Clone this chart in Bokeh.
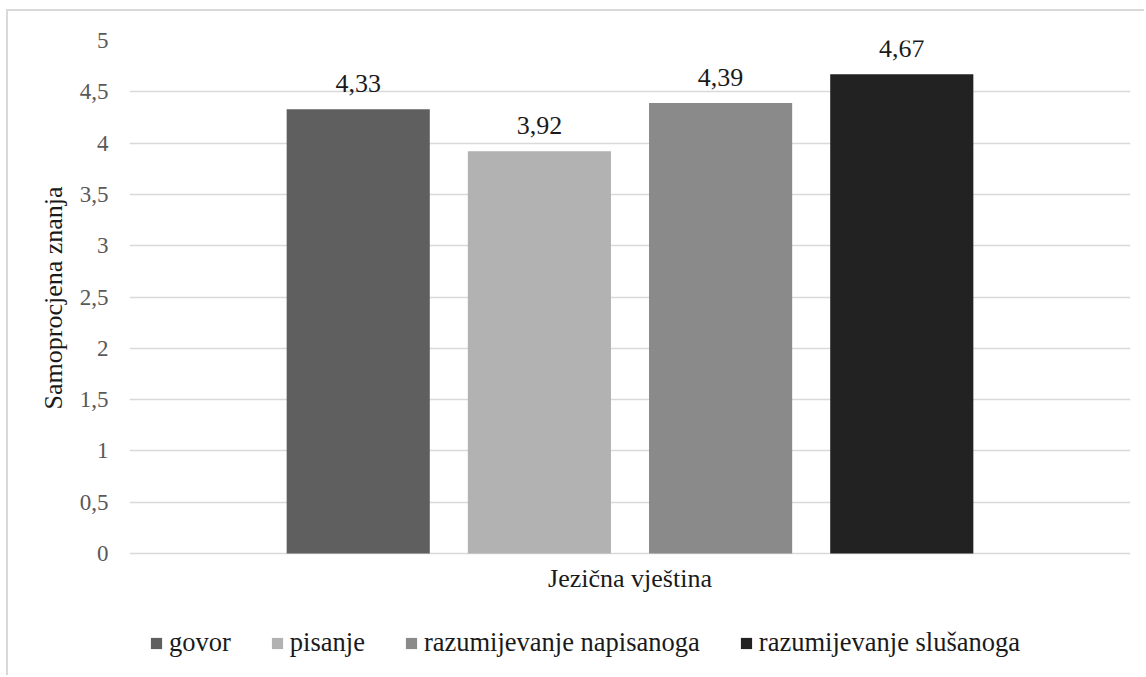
from bokeh.plotting import figure
from bokeh.models import (FactorRange, Range1d, FixedTicker, Legend, LegendItem,
                          ColumnDataSource, Title)
from bokeh.transform import dodge
from bokeh.core.properties import value
from bokeh.embed import file_html
from bokeh.resources import INLINE

# Self-assessed language skills (mean scores)
category = "Jezična vještina"
skills = ["govor", "pisanje", "razumijevanje napisanoga", "razumijevanje slušanoga"]
scores = [4.33, 3.92, 4.39, 4.67]
colors = ["#5f5f5f", "#b2b2b2", "#8a8a8a", "#222222"]
y_ticks = [0, 0.5, 1, 1.5, 2, 2.5, 3, 3.5, 4, 4.5, 5]
y_tick_labels = ["0", "0,5", "1", "1,5", "2", "2,5", "3", "3,5", "4", "4,5", "5"]
y_title = "Samoprocjena znanja"

FONT = "'Liberation Serif', serif"
TEXT = "#1a1a1a"
bar_width = 0.143
step = 0.181

# the frame runs down to the bottom edge so the legend and category
# label sit inside it; values below 0 are left empty
px_per_unit = 102.6
y_bottom = -124 / px_per_unit

p = figure(width=1138, height=666, x_range=FactorRange(category, range_padding=0),
           y_range=Range1d(y_bottom, 5), output_backend="svg", toolbar_location=None,
           min_border_left=121, min_border_right=16, min_border_top=29,
           min_border_bottom=0)
p.outline_line_color = None
p.background_fill_color = "white"
p.border_fill_color = "white"
# light frame around the whole chart area
p.styles = {"margin-left": "6px", "margin-top": "9px",
            "border-left": "2px solid #d9d9d9", "border-top": "2px solid #d9d9d9"}

renderers = []
for i, (skill, score, color) in enumerate(zip(skills, scores, colors)):
    off = (i - 1.5) * step
    src = ColumnDataSource(dict(x=[category], top=[score],
                                label=[f"{score:.2f}".replace(".", ",")]))
    r = p.vbar(x=dodge("x", off, range=p.x_range), top="top", bottom=0,
               width=bar_width, source=src, fill_color=color, line_color=None)
    p.text(x=dodge("x", off, range=p.x_range), y="top", text="label", source=src,
           text_align="center", text_baseline="alphabetic", y_offset=-26,
           text_font=value(FONT), text_font_size="26px", text_color=TEXT)
    renderers.append((skill, r))

# category label under the baseline
p.text(x=[category], y=[0], text=[category], text_align="center",
       text_baseline="alphabetic", y_offset=25, text_font=value(FONT),
       text_font_size="26px", text_color=TEXT)

# y axis
p.yaxis.ticker = FixedTicker(ticks=y_ticks)
p.yaxis.major_label_overrides = {t: l for t, l in zip(y_ticks, y_tick_labels)}
p.yaxis.major_label_text_font = FONT
p.yaxis.major_label_text_font_size = "23px"
p.yaxis.major_label_text_color = "#595959"
p.yaxis.major_label_standoff = 21
p.yaxis.major_tick_out = 0
p.yaxis.major_tick_in = 0
p.yaxis.axis_line_color = None
p.yaxis.major_tick_line_color = None
p.yaxis.minor_tick_line_color = None
p.xaxis.visible = False

# y title, centred on the 0-5 value span
p.add_layout(Title(text=y_title, align="left", offset=268, standoff=18,
                   text_font=FONT, text_font_size="26px", text_font_style="normal",
                   text_color=TEXT), "left")

p.xgrid.grid_line_color = None
p.ygrid.grid_line_color = "#d9d9d9"
p.ygrid.grid_line_width = 1.5

legend = Legend(items=[LegendItem(label=s, renderers=[r]) for s, r in renderers],
                orientation="horizontal", location=(20, 19),
                glyph_width=14, glyph_height=14, label_standoff=6, spacing=39,
                padding=0, margin=0, border_line_color=None,
                background_fill_alpha=0, label_text_font=FONT,
                label_text_font_size="26.5px", label_text_color=TEXT)
p.add_layout(legend)

open("out.html", "w").write(file_html(p, INLINE))
